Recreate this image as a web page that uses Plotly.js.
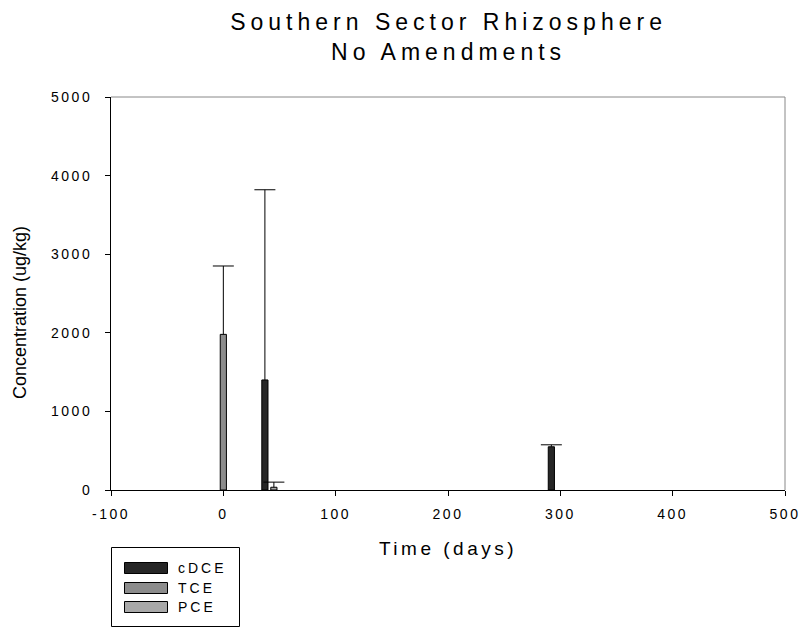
<!DOCTYPE html>
<html><head><meta charset="utf-8">
<script src="https://cdn.plot.ly/plotly-3.0.1.min.js"></script>
<style>body{margin:0;background:#fff}#c{width:801px;height:628px}
#c .xtick text, #c .ytick text{letter-spacing:2.5px}
#c .gtitle{letter-spacing:5px}
#c .g-xtitle text{letter-spacing:3.5px}
</style>
</head><body><div id="c"></div>
<script>
// Data
const seriesNames = ['cDCE', 'TCE', 'PCE'];
const cdceDays = [37, 292];
const cdceVals = [1400, 550];
const cdceErr  = [2420, 25];
const tceDays  = [0];
const tceVals  = [1980];
const tceErr   = [870];
const pceDays  = [45];
const pceVals  = [35];
const pceErr   = [65];
const xTickVals = [-100, 0, 100, 200, 300, 400, 500];
const xTickText = ['-100', '0', '100', '200', '300', '400', '500'];
const yTickVals = [0, 1000, 2000, 3000, 4000, 5000];

const colors = ['#262626', '#8c8c8c', '#a8a8a8'];
const font = 'Arial, "Liberation Sans", sans-serif';

function barTrace(name, x, y, err, color){
  return {type:'bar', name:name, x:x, y:y, width:5.5, showlegend:false,
    marker:{color:color, line:{color:'#000', width:1}},
    error_y:{type:'data', symmetric:false, array:err, arrayminus:x.map(()=>0),
      color:'#000', thickness:1, width:0}};
}
function capTrace(x, y, err){
  return {type:'scatter', mode:'markers', x:x, y:y.map((v,i)=>v+err[i]), showlegend:false,
    hoverinfo:'skip', marker:{symbol:'line-ew-open', size:15, color:'#000', line:{color:'#000', width:1}}};
}
const data = [
  barTrace(seriesNames[0], cdceDays, cdceVals, cdceErr, colors[0]),
  barTrace(seriesNames[1], tceDays, tceVals, tceErr, colors[1]),
  barTrace(seriesNames[2], pceDays, pceVals, pceErr, colors[2]),
  capTrace(cdceDays, cdceVals, cdceErr),
  capTrace(tceDays, tceVals, tceErr),
  capTrace(pceDays, pceVals, pceErr)
];

// plot area in pixels: x 111..785, y 97..490
const L = 111, R = 785, T = 97, B = 490;
const px = v => (v - L) / (R - L);
const py = v => (B - v) / (B - T);
// pixel-sized rectangle anchored at the plot's lower-left corner
function pxRect(x0, x1, y0, y1, fill){
  return {type:'rect', xref:'paper', yref:'paper', xsizemode:'pixel', ysizemode:'pixel',
    xanchor:0, yanchor:0, x0:x0 - L, x1:x1 - L, y0:B - y1, y1:B - y0,
    line:{color:'#000', width:1}, fillcolor:fill};
}

const shapes = [
  {type:'line', xref:'paper', yref:'paper', x0:0, x1:1, y0:1, y1:1, line:{color:'#888', width:1}},
  {type:'line', xref:'paper', yref:'paper', x0:1, x1:1, y0:0, y1:1, line:{color:'#888', width:1}},
  pxRect(111.5, 239.5, 547.5, 626.5, 'rgba(0,0,0,0)')
];
const annotations = [];
const rowTop = [562, 582, 601];
seriesNames.forEach((n, i) => {
  shapes.push(pxRect(124.5, 167.5, rowTop[i] + 0.5, rowTop[i] + 11.5, colors[i]));
  annotations.push({xref:'paper', yref:'paper', x:px(176), y:py(rowTop[i] + 6), xanchor:'left', yanchor:'middle',
    text:'<span style="letter-spacing:3px">' + n + '</span>', showarrow:false,
    font:{size:14, color:'#000', family:font}});
});
annotations.push({xref:'paper', yref:'paper', x:px(20), y:py(313), xanchor:'center', yanchor:'middle',
  textangle:-90, text:'Concentration (ug/kg)', showarrow:false, font:{size:18, color:'#000', family:font}});

const layout = {
  width:801, height:628,
  margin:{l:L, r:801-R, t:T, b:628-B, autoexpand:false},
  paper_bgcolor:'#fff', plot_bgcolor:'#fff',
  barmode:'overlay', showlegend:false,
  font:{family:font, color:'#000', size:14},
  title:{text:'Southern Sector Rhizosphere<br>No Amendments', x:0.56, xanchor:'center', y:0.952, yanchor:'top',
    font:{family:font, size:23, color:'#000'}},
  xaxis:{range:[-100,500], tickvals:xTickVals, ticktext:xTickText, showgrid:false, zeroline:false,
    showline:true, linecolor:'#000', linewidth:1, ticks:'outside', ticklen:5, tickcolor:'#000',
    tickfont:{size:14}, ticklabelstandoff:6,
    title:{text:'Time (days)', font:{size:19}, standoff:20}},
  yaxis:{range:[0,5000], tickvals:yTickVals, showgrid:false, zeroline:false,
    showline:true, linecolor:'#000', linewidth:1, ticks:'outside', ticklen:5, tickcolor:'#000',
    tickfont:{size:14}, ticklabelstandoff:10},
  shapes:shapes, annotations:annotations
};
Plotly.newPlot('c', data, layout, {displayModeBar:false});
</script></body></html>
